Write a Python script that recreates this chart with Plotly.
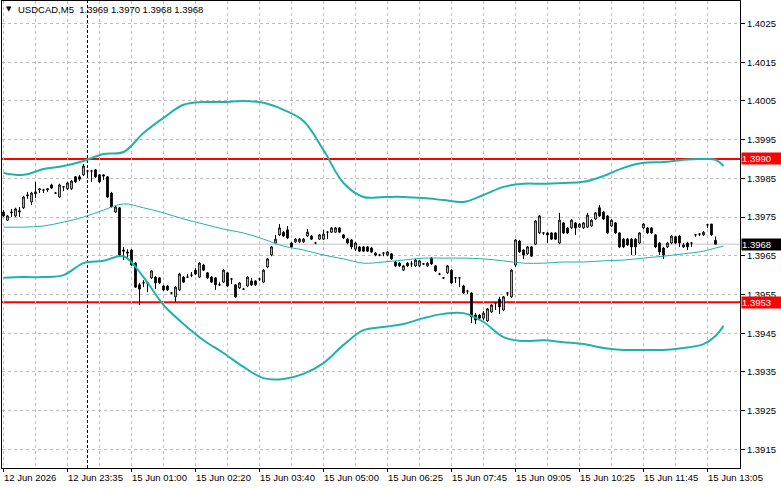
import plotly.graph_objects as go

# ---------------- data ----------------
symbol = "USDCAD,M5"

opens = [1.39763, 1.39742, 1.39761, 1.39753, 1.39763, 1.39774, 1.39805, 1.39789, 1.39810, 1.39820,
         1.39820, 1.39820, 1.39833, 1.39812, 1.39802, 1.39828, 1.39823, 1.39823, 1.39854, 1.39854,
         1.39859, 1.39869, 1.39869, 1.39872, 1.39859, 1.39859, 1.39854, 1.39812, 1.39763, 1.39774,
         1.39665, 1.39660, 1.39665, 1.39631, 1.39575, 1.39580, 1.39580, 1.39593, 1.39595, 1.39593,
         1.39572, 1.39572, 1.39554, 1.39544, 1.39562, 1.39595, 1.39595, 1.39600, 1.39613, 1.39595,
         1.39626, 1.39606, 1.39595, 1.39593, 1.39575, 1.39582, 1.39606, 1.39590, 1.39575, 1.39567,
         1.39564, 1.39572, 1.39585, 1.39585, 1.39590, 1.39582, 1.39621, 1.39652, 1.39683, 1.39704,
         1.39711, 1.39717, 1.39683, 1.39686, 1.39686, 1.39686, 1.39701, 1.39701, 1.39683, 1.39693,
         1.39693, 1.39711, 1.39711, 1.39711, 1.39722, 1.39704, 1.39693, 1.39691, 1.39667, 1.39673,
         1.39673, 1.39673, 1.39670, 1.39652, 1.39652, 1.39657, 1.39652, 1.39655, 1.39634, 1.39631,
         1.39613, 1.39631, 1.39629, 1.39624, 1.39624, 1.39629, 1.39624, 1.39644, 1.39624, 1.39603,
         1.39593, 1.39606, 1.39613, 1.39593, 1.39593, 1.39572, 1.39559, 1.39554, 1.39497, 1.39497,
         1.39489, 1.39482, 1.39505, 1.39528, 1.39538, 1.39510, 1.39554, 1.39544, 1.39626, 1.39688,
         1.39665, 1.39655, 1.39673, 1.39680, 1.39709, 1.39709, 1.39709, 1.39709, 1.39709, 1.39683,
         1.39735, 1.39722, 1.39722, 1.39735, 1.39724, 1.39722, 1.39724, 1.39727, 1.39745, 1.39774,
         1.39763, 1.39753, 1.39727, 1.39735, 1.39709, 1.39693, 1.39693, 1.39693, 1.39693, 1.39683,
         1.39722, 1.39722, 1.39722, 1.39704, 1.39683, 1.39670, 1.39673, 1.39683, 1.39699, 1.39701,
         1.39673, 1.39683, 1.39683, 1.39704, 1.39706, 1.39704, 1.39730, 1.39732, 1.39690]

highs = [1.39768, 1.39755, 1.39771, 1.39774, 1.39776, 1.39805, 1.39815, 1.39815, 1.39841, 1.39823,
         1.39823, 1.39823, 1.39836, 1.39815, 1.39836, 1.39830, 1.39841, 1.39846, 1.39856, 1.39859,
         1.39887, 1.39872, 1.39872, 1.39874, 1.39861, 1.39859, 1.39856, 1.39815, 1.39779, 1.39776,
         1.39673, 1.39667, 1.39667, 1.39634, 1.39580, 1.39587, 1.39582, 1.39613, 1.39598, 1.39595,
         1.39575, 1.39575, 1.39556, 1.39572, 1.39606, 1.39598, 1.39603, 1.39608, 1.39618, 1.39634,
         1.39629, 1.39608, 1.39598, 1.39595, 1.39582, 1.39616, 1.39608, 1.39593, 1.39577, 1.39582,
         1.39567, 1.39598, 1.39593, 1.39587, 1.39593, 1.39616, 1.39644, 1.39675, 1.39704, 1.39732,
         1.39714, 1.39727, 1.39686, 1.39696, 1.39696, 1.39696, 1.39719, 1.39704, 1.39686, 1.39706,
         1.39717, 1.39714, 1.39724, 1.39724, 1.39724, 1.39706, 1.39696, 1.39693, 1.39686, 1.39675,
         1.39675, 1.39675, 1.39673, 1.39660, 1.39655, 1.39660, 1.39662, 1.39657, 1.39637, 1.39634,
         1.39626, 1.39634, 1.39637, 1.39642, 1.39639, 1.39631, 1.39634, 1.39647, 1.39626, 1.39606,
         1.39595, 1.39626, 1.39616, 1.39595, 1.39595, 1.39575, 1.39562, 1.39556, 1.39502, 1.39500,
         1.39507, 1.39515, 1.39525, 1.39531, 1.39544, 1.39546, 1.39556, 1.39616, 1.39693, 1.39691,
         1.39667, 1.39675, 1.39675, 1.39742, 1.39755, 1.39711, 1.39711, 1.39711, 1.39711, 1.39761,
         1.39737, 1.39724, 1.39745, 1.39737, 1.39735, 1.39737, 1.39761, 1.39745, 1.39763, 1.39781,
         1.39766, 1.39755, 1.39745, 1.39737, 1.39711, 1.39696, 1.39696, 1.39696, 1.39696, 1.39711,
         1.39735, 1.39724, 1.39724, 1.39706, 1.39686, 1.39673, 1.39686, 1.39704, 1.39701, 1.39704,
         1.39683, 1.39686, 1.39686, 1.39706, 1.39709, 1.39714, 1.39732, 1.39732, 1.39700]

lows = [1.39750, 1.39740, 1.39750, 1.39750, 1.39750, 1.39771, 1.39797, 1.39781, 1.39799, 1.39812,
        1.39812, 1.39815, 1.39823, 1.39810, 1.39799, 1.39817, 1.39820, 1.39820, 1.39838, 1.39843,
        1.39856, 1.39859, 1.39841, 1.39851, 1.39838, 1.39846, 1.39799, 1.39776, 1.39761, 1.39649,
        1.39639, 1.39644, 1.39624, 1.39567, 1.39523, 1.39569, 1.39556, 1.39590, 1.39564, 1.39577,
        1.39559, 1.39559, 1.39551, 1.39531, 1.39559, 1.39580, 1.39593, 1.39595, 1.39600, 1.39593,
        1.39611, 1.39590, 1.39580, 1.39562, 1.39572, 1.39580, 1.39569, 1.39577, 1.39541, 1.39564,
        1.39562, 1.39569, 1.39572, 1.39572, 1.39585, 1.39580, 1.39618, 1.39649, 1.39680, 1.39701,
        1.39699, 1.39693, 1.39670, 1.39683, 1.39683, 1.39683, 1.39699, 1.39691, 1.39680, 1.39691,
        1.39691, 1.39693, 1.39709, 1.39709, 1.39709, 1.39693, 1.39680, 1.39667, 1.39662, 1.39660,
        1.39660, 1.39660, 1.39657, 1.39649, 1.39649, 1.39649, 1.39649, 1.39639, 1.39621, 1.39621,
        1.39611, 1.39621, 1.39621, 1.39621, 1.39621, 1.39626, 1.39621, 1.39626, 1.39608, 1.39600,
        1.39590, 1.39603, 1.39577, 1.39580, 1.39569, 1.39551, 1.39551, 1.39476, 1.39474, 1.39487,
        1.39484, 1.39479, 1.39502, 1.39510, 1.39500, 1.39507, 1.39546, 1.39541, 1.39621, 1.39657,
        1.39642, 1.39652, 1.39647, 1.39678, 1.39706, 1.39704, 1.39683, 1.39691, 1.39691, 1.39680,
        1.39706, 1.39706, 1.39719, 1.39704, 1.39722, 1.39719, 1.39722, 1.39724, 1.39742, 1.39750,
        1.39742, 1.39706, 1.39724, 1.39706, 1.39670, 1.39670, 1.39675, 1.39652, 1.39652, 1.39680,
        1.39719, 1.39706, 1.39706, 1.39670, 1.39652, 1.39642, 1.39670, 1.39680, 1.39680, 1.39673,
        1.39670, 1.39665, 1.39673, 1.39699, 1.39701, 1.39701, 1.39722, 1.39701, 1.39680]

closes = [1.39753, 1.39753, 1.39763, 1.39771, 1.39766, 1.39802, 1.39807, 1.39812, 1.39815, 1.39823,
          1.39820, 1.39823, 1.39825, 1.39812, 1.39833, 1.39828, 1.39838, 1.39843, 1.39841, 1.39848,
          1.39882, 1.39869, 1.39869, 1.39854, 1.39841, 1.39856, 1.39802, 1.39776, 1.39776, 1.39652,
          1.39662, 1.39657, 1.39626, 1.39569, 1.39564, 1.39580, 1.39580, 1.39611, 1.39580, 1.39580,
          1.39562, 1.39562, 1.39554, 1.39569, 1.39603, 1.39582, 1.39595, 1.39600, 1.39603, 1.39631,
          1.39613, 1.39593, 1.39582, 1.39575, 1.39575, 1.39613, 1.39572, 1.39590, 1.39544, 1.39580,
          1.39564, 1.39595, 1.39575, 1.39575, 1.39590, 1.39613, 1.39642, 1.39673, 1.39693, 1.39722,
          1.39701, 1.39696, 1.39673, 1.39693, 1.39693, 1.39693, 1.39711, 1.39693, 1.39683, 1.39704,
          1.39706, 1.39711, 1.39722, 1.39722, 1.39711, 1.39696, 1.39683, 1.39673, 1.39683, 1.39662,
          1.39662, 1.39662, 1.39660, 1.39657, 1.39652, 1.39657, 1.39660, 1.39642, 1.39624, 1.39624,
          1.39624, 1.39624, 1.39629, 1.39639, 1.39637, 1.39629, 1.39631, 1.39629, 1.39611, 1.39603,
          1.39593, 1.39624, 1.39580, 1.39593, 1.39593, 1.39554, 1.39559, 1.39492, 1.39484, 1.39489,
          1.39502, 1.39513, 1.39523, 1.39528, 1.39518, 1.39544, 1.39554, 1.39613, 1.39691, 1.39660,
          1.39652, 1.39673, 1.39649, 1.39740, 1.39753, 1.39709, 1.39704, 1.39693, 1.39693, 1.39742,
          1.39709, 1.39709, 1.39742, 1.39722, 1.39732, 1.39735, 1.39755, 1.39742, 1.39761, 1.39753,
          1.39745, 1.39709, 1.39742, 1.39709, 1.39673, 1.39673, 1.39678, 1.39673, 1.39673, 1.39709,
          1.39732, 1.39709, 1.39709, 1.39673, 1.39660, 1.39652, 1.39683, 1.39701, 1.39683, 1.39683,
          1.39678, 1.39673, 1.39683, 1.39704, 1.39706, 1.39711, 1.39730, 1.39704, 1.39680]

bars = list(range(len(opens)))

# Bollinger band values read at sample bars
band_bars = [0, 5, 10, 15, 20, 25, 30, 35, 40, 45, 50, 55, 60, 65, 70, 75, 80, 85, 90, 95,
             100, 105, 110, 115, 120, 125, 130, 135, 140, 145, 150, 155, 160, 165, 170, 175, 178, 180]
bb_upper = [1.39864, 1.39859, 1.39874, 1.39882, 1.39895, 1.39913, 1.39918, 1.39967, 1.40006, 1.40040,
            1.40047, 1.40047, 1.40050, 1.40045, 1.40027, 1.39998, 1.39923, 1.39838, 1.39802, 1.39802,
            1.39802, 1.39799, 1.39794, 1.39789, 1.39807, 1.39828, 1.39836, 1.39836, 1.39838, 1.39841,
            1.39856, 1.39877, 1.39890, 1.39892, 1.39898, 1.39900, 1.39898, 1.39882]
bb_middle = [1.39724, 1.39724, 1.39727, 1.39737, 1.39750, 1.39768, 1.39784, 1.39774, 1.39761, 1.39745,
             1.39732, 1.39719, 1.39709, 1.39693, 1.39675, 1.39665, 1.39652, 1.39642, 1.39631, 1.39634,
             1.39639, 1.39644, 1.39644, 1.39644, 1.39642, 1.39637, 1.39631, 1.39631, 1.39634, 1.39634,
             1.39637, 1.39639, 1.39644, 1.39649, 1.39655, 1.39662, 1.39670, 1.39675]
bb_lower = [1.39593, 1.39595, 1.39595, 1.39600, 1.39631, 1.39637, 1.39649, 1.39595, 1.39523, 1.39474,
            1.39432, 1.39399, 1.39363, 1.39334, 1.39332, 1.39345, 1.39373, 1.39420, 1.39458, 1.39466,
            1.39474, 1.39489, 1.39500, 1.39502, 1.39479, 1.39440, 1.39430, 1.39432, 1.39427, 1.39422,
            1.39412, 1.39407, 1.39407, 1.39407, 1.39412, 1.39422, 1.39443, 1.39469]

x_label_bars = [0, 16, 32, 48, 64, 80, 96, 112, 128, 144, 160, 176]
x_labels = ["12 Jun 2026", "12 Jun 23:35", "15 Jun 01:00", "15 Jun 02:20", "15 Jun 03:40",
            "15 Jun 05:00", "15 Jun 06:25", "15 Jun 07:45", "15 Jun 09:05", "15 Jun 10:25",
            "15 Jun 11:45", "15 Jun 13:05"]
x_grid_bars = [8, 24, 40, 56, 72, 88, 104, 120, 136, 152, 168, 184]

y_ticks = [1.3915, 1.3925, 1.3935, 1.3945, 1.3955, 1.3965, 1.3975, 1.3985, 1.3995, 1.4005, 1.4015, 1.4025]
y_tick_text = ["1.3915", "1.3925", "1.3935", "1.3945", "1.3955", "1.3965", "1.3975", "1.3985",
               "1.3995", "1.4005", "1.4015", "1.4025"]

level_high = 1.3990
level_low = 1.3953
bid_price = 1.3968
separator_bar = 21

# ---------------- styling ----------------
FONT = "Tahoma, 'Liberation Sans', Arial, sans-serif"
FS = 9.5
GRID = "#BEBEBE"
BAND = "#20B2AA"

fig = go.Figure()

fig.add_trace(go.Candlestick(
    x=bars, open=opens, high=highs, low=lows, close=closes,
    increasing=dict(line=dict(color="black", width=1), fillcolor="white"),
    decreasing=dict(line=dict(color="black", width=1), fillcolor="black"),
    whiskerwidth=0, showlegend=False, hoverinfo="skip",
))

fig.add_trace(go.Scatter(x=band_bars, y=bb_upper, mode="lines",
                         line=dict(color=BAND, width=2, shape="spline"), showlegend=False, hoverinfo="skip"))
fig.add_trace(go.Scatter(x=band_bars, y=bb_middle, mode="lines",
                         line=dict(color=BAND, width=1, shape="spline"), showlegend=False, hoverinfo="skip"))
fig.add_trace(go.Scatter(x=band_bars, y=bb_lower, mode="lines",
                         line=dict(color=BAND, width=2, shape="spline"), showlegend=False, hoverinfo="skip"))

shapes = [
    dict(type="line", xref="paper", x0=0, x1=1, yref="y", y0=bid_price, y1=bid_price,
         line=dict(color="#C0C0C0", width=1), layer="below"),
    dict(type="line", xref="paper", x0=0, x1=1, yref="y", y0=level_high, y1=level_high,
         line=dict(color="#FF0000", width=2), layer="below"),
    dict(type="line", xref="paper", x0=0, x1=1, yref="y", y0=level_low, y1=level_low,
         line=dict(color="#FF0000", width=2), layer="below"),
    dict(type="line", xref="x", x0=separator_bar, x1=separator_bar, yref="paper", y0=0, y1=1,
         line=dict(color="black", width=1, dash="3px,2px"), layer="below"),
]

annotations = []
for b, t in zip(x_label_bars, x_labels):
    annotations.append(dict(x=b, xref="x", y=0, yref="paper", xanchor="left", yanchor="top",
                            text=t, showarrow=False, xshift=-2, yshift=-2,
                            font=dict(family=FONT, size=FS, color="black")))

hdr = f"{symbol}  {opens[-1]:.4f} {highs[-1]:.4f} {lows[-1]:.4f} {closes[-1]:.4f}"
annotations.append(dict(x=0, xref="paper", y=1, yref="paper", xanchor="left", yanchor="top",
                        text="▼", showarrow=False, xshift=2, yshift=-2,
                        font=dict(family="DejaVu Sans", size=7, color="black")))
annotations.append(dict(x=0, xref="paper", y=1, yref="paper", xanchor="left", yanchor="top",
                        text=hdr, showarrow=False, xshift=14, yshift=-1,
                        font=dict(family=FONT, size=FS, color="black")))


def price_box(price, bg):
    return dict(x=1, xref="paper", y=price, yref="y", xanchor="left", yanchor="middle",
                text=f"{price:.4f}", showarrow=False, xshift=1, width=39, height=11,
                align="left", bgcolor=bg, borderpad=0,
                font=dict(family=FONT, size=FS, color="white"))


annotations.append(price_box(level_high, "#FF0000"))
annotations.append(price_box(level_low, "#FF0000"))
annotations.append(price_box(bid_price, "#000000"))

fig.update_layout(
    width=781, height=489,
    margin=dict(l=2, r=41, t=1, b=21),
    paper_bgcolor="white", plot_bgcolor="white",
    boxgap=0.4,
    showlegend=False,
    shapes=shapes, annotations=annotations,
    font=dict(family=FONT, size=FS, color="black"),
    xaxis=dict(
        range=[-0.375, 184.125], rangeslider=dict(visible=False),
        tickmode="array", tickvals=x_label_bars, showticklabels=False,
        ticks="outside", ticklen=3, tickcolor="black",
        showgrid=True, gridcolor=GRID, griddash="3px,3px", gridwidth=1,
        minor=dict(tickmode="array", tickvals=x_grid_bars, showgrid=True,
                   gridcolor=GRID, griddash="3px,3px", gridwidth=1, ticks=""),
        zeroline=False, showline=True, linecolor="black", linewidth=1, mirror=True,
    ),
    yaxis=dict(
        range=[1.39102, 1.40308], side="right",
        tickmode="array", tickvals=y_ticks, ticktext=y_tick_text,
        ticks="outside", ticklen=4, tickcolor="black",
        tickfont=dict(family=FONT, size=FS, color="black"),
        showgrid=True, gridcolor=GRID, griddash="3px,3px", gridwidth=1,
        zeroline=False, showline=True, linecolor="black", linewidth=1, mirror=True,
    ),
)

fig.write_html("out.html")
